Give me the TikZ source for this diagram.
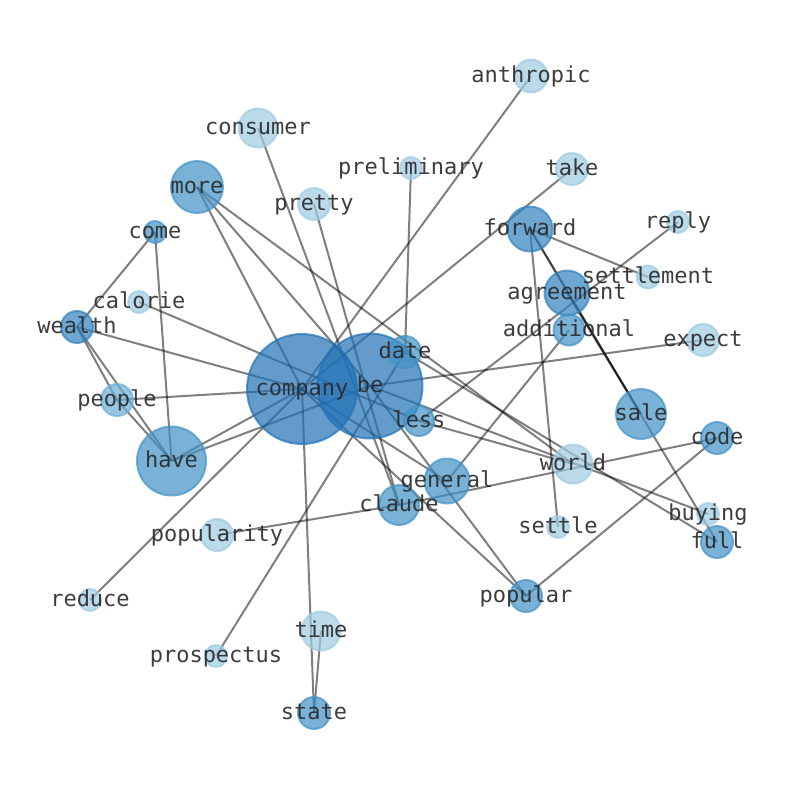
\documentclass[tikz,border=0pt]{standalone}
\usepackage{fontspec}
\newfontfamily\monofont{DejaVu Sans Mono}
\definecolor{cA}{HTML}{2171B5}
\definecolor{cB}{HTML}{3182BD}
\definecolor{cC}{HTML}{4292C6}
\definecolor{cD}{HTML}{6BAED6}
\definecolor{cE}{HTML}{9ECAE1}
\definecolor{txt}{RGB}{40,40,40}
\begin{document}
\begin{tikzpicture}[x=0.75pt,y=-0.75pt,
  edge/.style={draw=black,draw opacity=0.5,line width=1.5pt},
  vtx/.style={circle,inner sep=0pt,line width=1.5pt,fill opacity=0.7,draw opacity=0.7,minimum size={0.75pt*(#1-2)}},
  lbl/.style={inner sep=0pt,font=\monofont\fontsize{16.5}{16.5}\selectfont,text=txt,text opacity=0.9,
    text height=0.76em,text depth=0.24em,anchor=center,yshift=-2.5pt}]
\useasboundingbox (0,0) rectangle (794,790);
% centres
\coordinate (company) at (302,389);
\coordinate (be) at (370,386);
\coordinate (have) at (171.5,461);
\coordinate (more) at (197,187);
\coordinate (come) at (155,232);
\coordinate (calorie) at (139,302);
\coordinate (wealth) at (77,327);
\coordinate (people) at (117,400);
\coordinate (consumer) at (258,128);
\coordinate (pretty) at (314,204);
\coordinate (preliminary) at (411,168);
\coordinate (anthropic) at (531,76);
\coordinate (take) at (572,169);
\coordinate (forward) at (530,229);
\coordinate (reply) at (678,222);
\coordinate (settlement) at (648,277);
\coordinate (agreement) at (567,293);
\coordinate (additional) at (569,330);
\coordinate (expect) at (703,340);
\coordinate (date) at (405,352);
\coordinate (less) at (419,421);
\coordinate (sale) at (641,414);
\coordinate (code) at (717,438);
\coordinate (world) at (573,464);
\coordinate (general) at (447,481);
\coordinate (claude) at (399,505);
\coordinate (settle) at (558,527);
\coordinate (buying) at (708,514);
\coordinate (full) at (717,542);
\coordinate (popularity) at (217,535);
\coordinate (popular) at (526,596);
\coordinate (reduce) at (90,600);
\coordinate (time) at (321,631);
\coordinate (prospectus) at (216,656);
\coordinate (state) at (314,713);
% edges
\draw[edge] (company) -- (anthropic);
\draw[edge] (company) -- (take);
\draw[edge] (company) -- (more);
\draw[edge] (be) -- (more);
\draw[edge] (more) -- (world);
\draw[edge] (company) -- (wealth);
\draw[edge] (company) -- (people);
\draw[edge] (company) -- (have);
\draw[edge] (be) -- (have);
\draw[edge] (company) -- (reduce);
\draw[edge] (company) -- (state);
\draw[edge] (company) -- (popular);
\draw[edge] (company) -- (general);
\draw[edge] (be) -- (popular);
\draw[edge] (be) -- (expect);
\draw[edge] (be) -- (buying);
\draw[edge] (less) -- (world);
\draw[edge] (calorie) -- (less);
\draw[edge] (consumer) -- (claude);
\draw[edge] (pretty) -- (claude);
\draw[edge] (preliminary) -- (date);
\draw[edge] (date) -- (prospectus);
\draw[edge] (date) -- (full);
\draw[edge] (forward) -- (settlement);
\draw[edge] (forward) -- (sale);
\draw[edge] (forward) -- (full);
\draw[edge] (forward) -- (settle);
\draw[edge] (agreement) -- (sale);
\draw[edge] (reply) -- (less);
\draw[edge] (additional) -- (general);
\draw[edge] (popularity) -- (claude);
\draw[edge] (claude) -- (code);
\draw[edge] (popular) -- (code);
\draw[edge] (time) -- (state);
\draw[edge] (come) -- (wealth);
\draw[edge] (come) -- (have);
\draw[edge] (wealth) -- (have);
\draw[edge] (wealth) -- (people);
\draw[edge] (people) -- (have);
% circles
\node[vtx=112,fill=cA,draw=cA] (company-c) at (company) {};
\node[vtx=107,fill=cA,draw=cA] (be-c) at (be) {};
\node[vtx=71,fill=cC,draw=cC] (have-c) at (have) {};
\node[vtx=54,fill=cC,draw=cC] (more-c) at (more) {};
\node[vtx=24,fill=cC,draw=cC] (come-c) at (come) {};
\node[vtx=24,fill=cE,draw=cE] (calorie-c) at (calorie) {};
\node[vtx=34,fill=cB,draw=cB] (wealth-c) at (wealth) {};
\node[vtx=34,fill=cD,draw=cD] (people-c) at (people) {};
\node[vtx=41,fill=cE,draw=cE] (consumer-c) at (consumer) {};
\node[vtx=34,fill=cE,draw=cE] (pretty-c) at (pretty) {};
\node[vtx=24,fill=cE,draw=cE] (preliminary-c) at (preliminary) {};
\node[vtx=35,fill=cE,draw=cE] (anthropic-c) at (anthropic) {};
\node[vtx=34,fill=cE,draw=cE] (take-c) at (take) {};
\node[vtx=47,fill=cB,draw=cB] (forward-c) at (forward) {};
\node[vtx=24,fill=cE,draw=cE] (reply-c) at (reply) {};
\node[vtx=25,fill=cE,draw=cE] (settlement-c) at (settlement) {};
\node[vtx=47,fill=cB,draw=cB] (agreement-c) at (agreement) {};
\node[vtx=33,fill=cC,draw=cC] (additional-c) at (additional) {};
\node[vtx=34,fill=cE,draw=cE] (expect-c) at (expect) {};
\node[vtx=34,fill=cC,draw=cC] (date-c) at (date) {};
\node[vtx=32,fill=cC,draw=cC] (less-c) at (less) {};
\node[vtx=52,fill=cC,draw=cC] (sale-c) at (sale) {};
\node[vtx=34,fill=cC,draw=cC] (code-c) at (code) {};
\node[vtx=41,fill=cE,draw=cE] (world-c) at (world) {};
\node[vtx=47,fill=cC,draw=cC] (general-c) at (general) {};
\node[vtx=42,fill=cC,draw=cC] (claude-c) at (claude) {};
\node[vtx=24,fill=cE,draw=cE] (settle-c) at (settle) {};
\node[vtx=24,fill=cE,draw=cE] (buying-c) at (buying) {};
\node[vtx=34,fill=cC,draw=cC] (full-c) at (full) {};
\node[vtx=34,fill=cE,draw=cE] (popularity-c) at (popularity) {};
\node[vtx=34,fill=cC,draw=cC] (popular-c) at (popular) {};
\node[vtx=24,fill=cE,draw=cE] (reduce-c) at (reduce) {};
\node[vtx=41,fill=cE,draw=cE] (time-c) at (time) {};
\node[vtx=24,fill=cE,draw=cE] (prospectus-c) at (prospectus) {};
\node[vtx=34,fill=cC,draw=cC] (state-c) at (state) {};
% labels
\node[lbl] (company-t) at (company) {company};
\node[lbl] (be-t) at (be) {be};
\node[lbl] (have-t) at (have) {have};
\node[lbl] (more-t) at (more) {more};
\node[lbl] (come-t) at (come) {come};
\node[lbl] (calorie-t) at (calorie) {calorie};
\node[lbl] (wealth-t) at (wealth) {wealth};
\node[lbl] (people-t) at (people) {people};
\node[lbl] (consumer-t) at (consumer) {consumer};
\node[lbl] (pretty-t) at (pretty) {pretty};
\node[lbl] (preliminary-t) at (preliminary) {preliminary};
\node[lbl] (anthropic-t) at (anthropic) {anthropic};
\node[lbl] (take-t) at (take) {take};
\node[lbl] (forward-t) at (forward) {forward};
\node[lbl] (reply-t) at (reply) {reply};
\node[lbl] (settlement-t) at (settlement) {settlement};
\node[lbl] (agreement-t) at (agreement) {agreement};
\node[lbl] (additional-t) at (additional) {additional};
\node[lbl] (expect-t) at (expect) {expect};
\node[lbl] (date-t) at (date) {date};
\node[lbl] (less-t) at (less) {less};
\node[lbl] (sale-t) at (sale) {sale};
\node[lbl] (code-t) at (code) {code};
\node[lbl] (world-t) at (world) {world};
\node[lbl] (general-t) at (general) {general};
\node[lbl] (claude-t) at (claude) {claude};
\node[lbl] (settle-t) at (settle) {settle};
\node[lbl] (buying-t) at (buying) {buying};
\node[lbl] (full-t) at (full) {full};
\node[lbl] (popularity-t) at (popularity) {popularity};
\node[lbl] (popular-t) at (popular) {popular};
\node[lbl] (reduce-t) at (reduce) {reduce};
\node[lbl] (time-t) at (time) {time};
\node[lbl] (prospectus-t) at (prospectus) {prospectus};
\node[lbl] (state-t) at (state) {state};
\end{tikzpicture}
\end{document}
